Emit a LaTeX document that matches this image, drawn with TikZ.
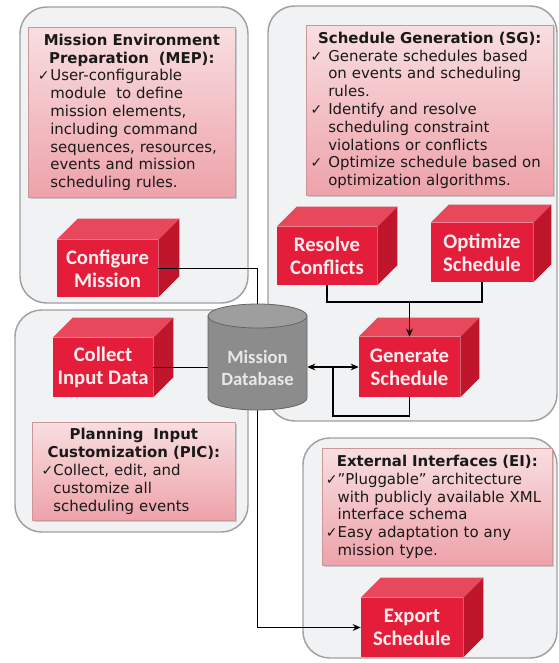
\documentclass[tikz,border=0pt]{standalone}
\usepackage{fontspec}
\setmainfont{DejaVu Sans}
\newfontfamily\cubefont{Carlito}
\usetikzlibrary{arrows.meta,shadows}
\definecolor{panelfill}{RGB}{240,242,244}
\definecolor{panelline}{RGB}{160,160,160}
\definecolor{pinktop}{RGB}{248,222,224}
\definecolor{pinkbot}{RGB}{238,162,170}
\definecolor{pinkline}{RGB}{205,150,155}
\definecolor{cubefrontc}{RGB}{228,30,58}
\definecolor{cubetopc}{RGB}{232,72,92}
\definecolor{cubesidec}{RGB}{192,22,44}
\definecolor{dbbody}{RGB}{140,140,140}
\definecolor{dbtopc}{RGB}{158,158,158}
\definecolor{dbedge}{RGB}{100,100,100}
\definecolor{dbtextc}{RGB}{232,232,232}
\definecolor{txt}{RGB}{25,25,25}
\newcommand{\chk}{{\fontsize{10.5}{10.5}\selectfont ✓}}
\newcommand{\ttl}[1]{{\centering\bfseries #1\par}}
\newcommand{\itm}[3]{{\leftskip=#1\noindent\llap{\chk\hspace{#2}}#3\par}}
\newcommand{\cube}[7]{%
  \node[cubefront, minimum width=#4*0.75pt, minimum height=#5*0.75pt] (#1) at (#2,#3) {#7};
  \fill[cubetopc] (#1.north west) -- ++(#6,-#6) -- ([shift={(#6,-#6)}]#1.north east) -- (#1.north east) -- cycle;
  \fill[cubesidec] (#1.north east) -- ++(#6,-#6) -- ([shift={(#6,-#6)}]#1.south east) -- (#1.south east) -- cycle;
}
\tikzset{
  panel/.style={draw=panelline, line width=1.1pt, fill=panelfill, rounded corners=20pt},
  pinkbox/.style={draw=pinkline, line width=0.5pt, top color=pinktop, bottom color=pinkbot,
    drop shadow={shadow xshift=1.2pt, shadow yshift=-1.2pt, opacity=0.35},
    anchor=north west, inner xsep=3pt, inner ysep=1pt, align=left, text=txt,
    font=\fontsize{11.2}{13.35}\selectfont},
  cubefront/.style={fill=cubefrontc, inner sep=0pt, text={rgb,255:red,255;green,238;blue,240},
    font=\cubefont\bfseries\fontsize{15.5}{17.5}\selectfont, align=center},
  conn/.style={line width=1.4pt, black},
  arr/.style={conn, -{Stealth[length=6pt,width=5pt]}},
  darr/.style={conn, {Stealth[length=6pt,width=5pt]}-{Stealth[length=6pt,width=5pt]}},
}
\begin{document}
\begin{tikzpicture}[x=0.75pt,y=-0.75pt]
\useasboundingbox (0,0) rectangle (558,663);
\fill[white] (0,0) rectangle (558,663);
% panels
\draw[panel] (20,7) rectangle (248,303);
\draw[panel] (268,6) rectangle (557,421);
\draw[panel] (15,310) rectangle (248,532);
\draw[panel] (303,438) rectangle (557,658);
% pink text boxes
\node[pinkbox, text width=149.25pt, minimum height=127.5pt] (mep) at (28,27) {%
  \ttl{Mission Environment\\Preparation\ \ (MEP):}
  \itm{13.5pt}{0.5pt}{User-configurable\\module\ \ to define\\mission elements,\\including command\\sequences, resources,\\events and mission\\scheduling rules.}};
\node[pinkbox, text width=179.25pt, minimum height=127.5pt] (sg) at (306,25) {%
  \ttl{Schedule Generation (SG):}
  \itm{13.5pt}{4.5pt}{Generate schedules based\\on events and scheduling\\rules.}
  \itm{13.5pt}{4.5pt}{Identify and resolve\\scheduling constraint\\violations or conflicts}
  \itm{13.5pt}{4.5pt}{Optimize schedule based on\\optimization algorithms.}};
\node[pinkbox, text width=146.25pt, minimum height=73.5pt] (pic) at (32,422) {%
  \ttl{Planning\ \ Input\\Customization (PIC):}
  \itm{12.75pt}{0pt}{Collect, edit, and\\customize all\\scheduling events}};
\node[pinkbox, text width=166.5pt, minimum height=87.75pt] (ei) at (322,448) {%
  \ttl{External Interfaces (EI):}
  \itm{8.5pt}{0pt}{"Pluggable" architecture\\with publicly available XML\\interface schema}
  \itm{8.5pt}{0pt}{Easy adaptation to any\\mission type.}};
% cubes
\cube{cfg}{107.5}{268.5}{101}{57}{21}{Configure\\Mission}
\cube{res}{327}{256}{100}{58}{20}{Resolve\\Conflicts}
\cube{opt}{482}{252.5}{102}{59}{18}{Optimize\\Schedule}
\cube{gen}{409.5}{367}{101}{60}{19}{Generate\\Schedule}
\cube{col}{103}{367.5}{100}{59}{20}{Collect\\Input Data}
\cube{exp}{412}{627.5}{102}{59}{20}{Export\\Schedule}
% database placeholder node
\node[minimum width=74.25pt, minimum height=79.5pt, inner sep=0pt] (db) at (257.5,357) {};
\coordinate (jn) at (409.5,302);
\coordinate (loopend) at (333,367);
% connectors
\draw[conn] (cfg.east) -| (db.north);
\draw[conn] (col.east) -- (col.east -| db.west);
\draw[conn] (res.south) -- (res.south |- jn) -| (opt.south);
\draw[arr] (jn) -- (gen.north);
\draw[darr] (db.east |- gen.west) -- (gen.west);
\draw[conn] (gen.south) -- ++(0,19) -| (loopend);
\draw[arr] (db.south) |- (exp.west);
% database cylinder
\filldraw[fill=dbbody, draw=dbedge, line width=0.6pt] (208,316) -- (208,398) arc[start angle=180, end angle=0, x radius=49.5, y radius=12] -- (307,316) -- cycle;
\filldraw[fill=dbtopc, draw=dbedge, line width=0.6pt] (257.5,316) ellipse [x radius=49.5, y radius=12];
\node[text=dbtextc, font=\cubefont\bfseries\fontsize{14}{16.5}\selectfont, align=center] (dbl) at (257.5,368) {Mission\\Database};
\end{tikzpicture}
\end{document}
